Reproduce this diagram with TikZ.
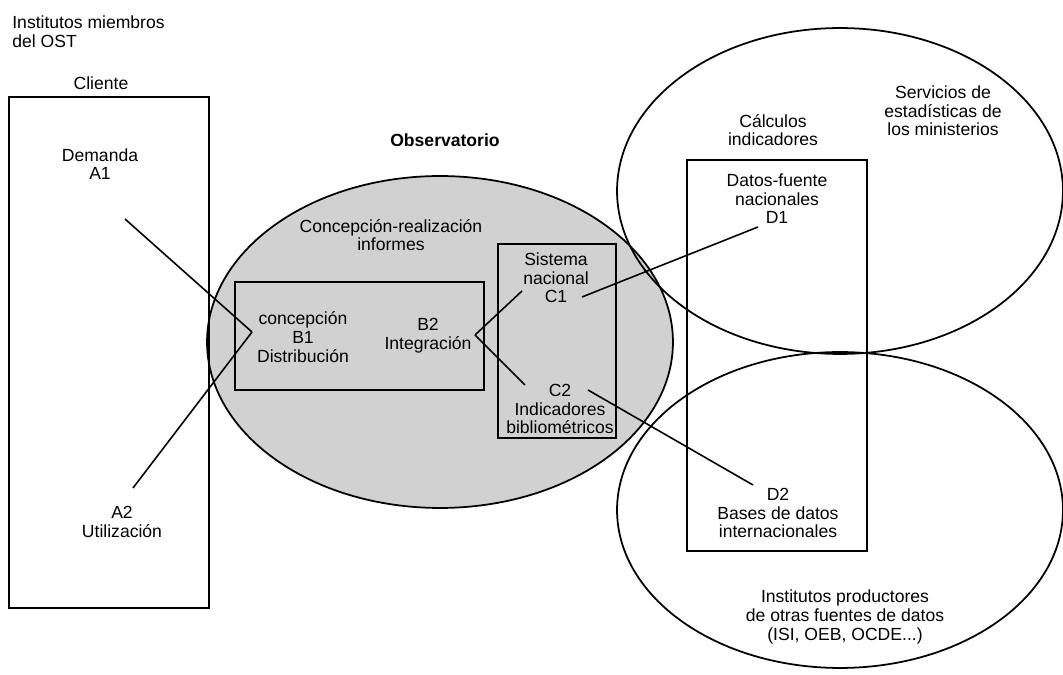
\documentclass[tikz,border=0pt]{standalone}
\usepackage{fontspec}
\setmainfont{Liberation Sans}
\begin{document}
\begin{tikzpicture}
[x=0.02cm,y=-0.02cm,%
  lineDecorate/.style={-,line width=0.9pt},%
  boxDecorate/.style={draw,line width=1pt},%
  textDecorate/.style={align=center,inner sep=0pt,font=\fontsize{10}{10.6}\selectfont}]
\useasboundingbox (0,0) rectangle (1063,675);
%% regions
\draw[boxDecorate,fill=black!18] (440,342) ellipse [x radius=4.66cm,y radius=3.32cm];
\draw[boxDecorate] (840,191) ellipse [x radius=4.46cm,y radius=3.26cm];
\draw[boxDecorate] (840,510) ellipse [x radius=4.46cm,y radius=3.16cm];
%% boxes
\foreach \xa/\ya/\xb/\yb in {
  9/97/209/608, 235/282/484/390, 498/244/616/438, 687/160/867/551}
{
  \draw[boxDecorate] (\xa,\ya) rectangle (\xb,\yb);
}
%% texts
\node (ost) at (12,32) [textDecorate,anchor=west,align=left] {Institutos miembros\\del OST};
\node (obs) at (445,140) [textDecorate,font=\fontsize{10}{10.6}\selectfont\bfseries] {Observatorio};
\foreach \nodename/\x/\y/\txt in {
  cliente/101/83/{Cliente},
  a1/100/164/{Demanda\\A1},
  a2/122/522/{A2\\Utilización},
  informes/391/235/{Concepción-realización\\informes},
  b1/303/337/{concepción\\B1\\Distribución},
  b2/428/336/{B2\\Integración},
  c1/556/278/{Sistema\\nacional\\C1},
  c2/560/409/{C2\\Indicadores\\bibliométricos},
  calculos/773/130/{Cálculos\\indicadores},
  servicios/943/111/{Servicios de\\estadísticas de\\los ministerios},
  d1/777/199/{Datos-fuente\\nacionales\\D1},
  d2/778/513/{D2\\Bases de datos\\internacionales},
  productores/845/617/{Institutos productores\\de otras fuentes de datos\\(ISI, OEB, OCDE...)}}
{
  \node (\nodename) at (\x,\y) [textDecorate] {\txt};
}
%% line ends
\foreach \cname/\x/\y in {
  a1end/125/219, a2end/133/488, b1tip/252/332,
  b2tip/475/335, c1in/522/291, c2in/525/385,
  c1out/582/297, c2out/588/390, d1end/758/227, d2end/753/485}
{
  \coordinate (\cname) at (\x,\y);
}
%% lines
\path
\foreach \startnode/\endnode in {
  a1end/b1tip, a2end/b1tip, c1in/b2tip, c2in/b2tip, c1out/d1end, c2out/d2end}
{
  (\startnode) edge[lineDecorate] (\endnode)
};
\end{tikzpicture}
\end{document}
